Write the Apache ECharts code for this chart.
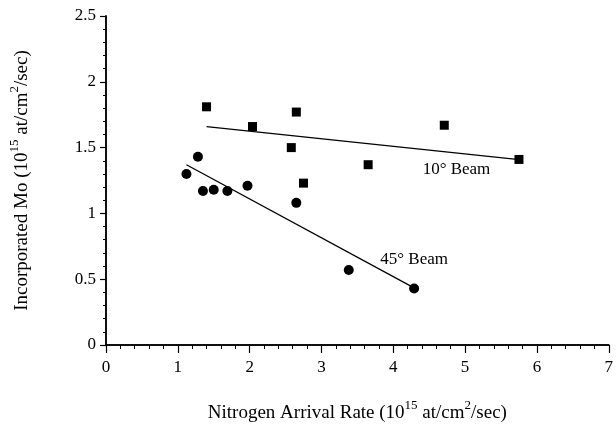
<!DOCTYPE html>
<html><head><meta charset="utf-8">
<script src="https://cdn.jsdelivr.net/npm/echarts@6/dist/echarts.min.js"></script>
<style>html,body{margin:0;padding:0;background:#fff}#c{width:616px;height:428px}</style>
</head><body><div id="c"></div>
<script>
const beam10X = [1.40, 2.04, 2.58, 2.65, 2.75, 3.65, 4.71, 5.75];
const beam10Y = [1.81, 1.66, 1.50, 1.77, 1.23, 1.37, 1.67, 1.41];
const beam45X = [1.12, 1.28, 1.35, 1.50, 1.69, 1.97, 2.65, 3.38, 4.29];
const beam45Y = [1.30, 1.43, 1.17, 1.18, 1.17, 1.21, 1.08, 0.57, 0.43];
const fit10X = [1.40, 5.72];
const fit10Y = [1.66, 1.41];
const fit45X = [1.12, 4.27];
const fit45Y = [1.37, 0.44];
const labelNames = ['10° Beam', '45° Beam'];
const labelX = [4.88, 4.29];
const labelY = [1.33, 0.65];
const xMin = 0, xMax = 7, xStep = 1;
const yMin = 0, yMax = 2.5, yStep = 0.5;

const FONT = 'Liberation Serif';
const zip = (xs, ys) => xs.map((x, i) => [x, ys[i]]);
const chart = echarts.init(document.getElementById('c'));
const axisLine = { show: true, lineStyle: { color: '#000', width: 1.5 } };
const titleRich = {
  a: { fontFamily: FONT, fontSize: 19, color: '#000', lineHeight: 24, verticalAlign: 'bottom' },
  s: { fontFamily: FONT, fontSize: 13, color: '#000', lineHeight: 24, verticalAlign: 'top' }
};
chart.setOption({
  backgroundColor: '#fff',
  animation: false,
  grid: { left: 106, right: 7, top: 16, bottom: 76 },
  xAxis: [{
    type: 'value', min: xMin, max: xMax, interval: xStep,
    axisLine: axisLine,
    axisTick: { show: true, length: 8, lineStyle: { color: '#000', width: 1.2 } },
    minorTick: { show: true, splitNumber: 5, length: 4, lineStyle: { color: '#000', width: 1 } },
    splitLine: { show: false },
    axisLabel: { color: '#000', fontFamily: FONT, fontSize: 17, margin: 14 },
    name: '{a|Nitrogen Arrival Rate (10}{s|15}{a| at/cm}{s|2}{a|/sec)}',
    nameLocation: 'middle', nameGap: 54,
    nameTextStyle: { rich: titleRich }
  }, {
    type: 'value', position: 'top', min: xMin, max: xMax, interval: xStep,
    axisLine: axisLine, axisTick: { show: false }, axisLabel: { show: false }, splitLine: { show: false }
  }],
  yAxis: [{
    type: 'value', min: yMin, max: yMax, interval: yStep,
    axisLine: axisLine,
    axisTick: { show: true, length: 6, lineStyle: { color: '#000', width: 1.2 } },
    minorTick: { show: true, splitNumber: 5, length: 3, lineStyle: { color: '#000', width: 1 } },
    splitLine: { show: false },
    axisLabel: { color: '#000', fontFamily: FONT, fontSize: 17, margin: 10 },
    name: '{a|Incorporated Mo (10}{s|15}{a| at/cm}{s|2}{a|/sec)}',
    nameLocation: 'middle', nameGap: 74,
    nameTextStyle: { rich: titleRich }
  }, {
    type: 'value', position: 'right', min: yMin, max: yMax, interval: yStep,
    axisLine: axisLine,
    axisTick: { show: true, inside: true, length: 3, lineStyle: { color: '#000', width: 1 } },
    minorTick: { show: false },
    axisLabel: { show: false }, splitLine: { show: false }
  }],
  series: [
    { type: 'scatter', symbol: 'rect', symbolSize: 9, itemStyle: { color: '#000', opacity: 1 }, data: zip(beam10X, beam10Y), z: 5 },
    { type: 'scatter', symbol: 'circle', symbolSize: 10, itemStyle: { color: '#000', opacity: 1 }, data: zip(beam45X, beam45Y), z: 5 },
    { type: 'line', data: zip(fit10X, fit10Y), showSymbol: false, symbol: 'none', lineStyle: { color: '#000', width: 1.3 } },
    { type: 'line', data: zip(fit45X, fit45Y), showSymbol: false, symbol: 'none', lineStyle: { color: '#000', width: 1.3 } },
    { type: 'scatter', symbolSize: 0, silent: true, itemStyle: { opacity: 1 },
      data: labelNames.map((n, i) => ({ name: n, value: [labelX[i], labelY[i]] })),
      label: { show: true, position: 'inside', formatter: p => p.name, color: '#000', opacity: 1, textBorderWidth: 0, fontFamily: FONT, fontSize: 17 } }
  ]
});
</script></body></html>
